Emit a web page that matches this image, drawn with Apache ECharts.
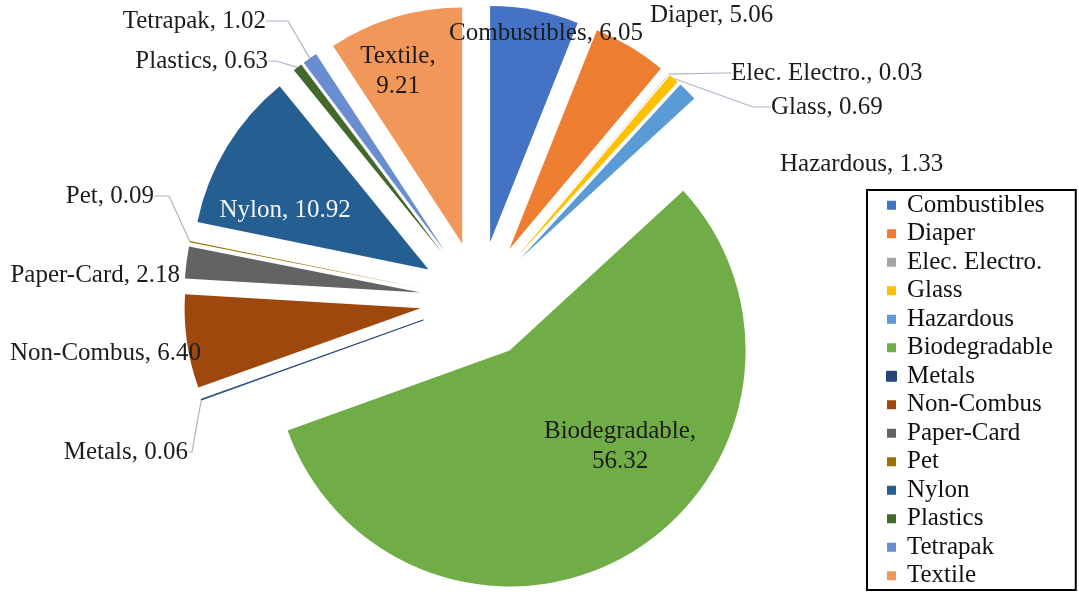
<!DOCTYPE html>
<html><head><meta charset="utf-8">
<script src="https://cdn.jsdelivr.net/npm/echarts@6/dist/echarts.min.js"></script>
<style>html,body{margin:0;padding:0;background:#fff}#c{width:1079px;height:594px}</style>
</head><body><div id="c"></div>
<script>
// ---- data ----
const categories = ['Combustibles','Diaper','Elec. Electro.','Glass','Hazardous','Biodegradable','Metals','Non-Combus','Paper-Card','Pet','Nylon','Plastics','Tetrapak','Textile'];
const values = [6.05, 5.06, 0.03, 0.69, 1.33, 56.32, 0.06, 6.40, 2.18, 0.09, 10.92, 0.63, 1.02, 9.21];
const colors = ['#4472C4','#ED7D31','#A5A5A5','#FFC000','#5B9BD5','#70AD47','#264478','#9E480E','#636363','#997300','#255E91','#43682B','#698ED0','#F1975A'];

// ---- layout / style ----
const CX = 479, CY = 300, R = 236, OFF = 59;
const FONT = 'Liberation Serif';
const LABEL_POS = {
  'Combustibles':  {x: 546, y: 33,  align: 'center', kind: 'inside'},
  'Diaper':        {x: 650, y: 15,  align: 'left',   kind: 'plain'},
  'Elec. Electro.':{x: 731, y: 73,  align: 'left',   kind: 'line', len2: 8},
  'Glass':         {x: 771, y: 107, align: 'left',   kind: 'line', len2: 18},
  'Hazardous':     {x: 780, y: 164, align: 'left',   kind: 'plain'},
  'Biodegradable': {x: 620, y: 446, align: 'center', kind: 'inside', two: true},
  'Metals':        {x: 188, y: 452, align: 'right',  kind: 'line', len2: 4},
  'Non-Combus':    {x: 201, y: 353, align: 'right',  kind: 'plain'},
  'Paper-Card':    {x: 180, y: 275, align: 'right',  kind: 'plain'},
  'Pet':           {x: 154, y: 196, align: 'right',  kind: 'line', len2: 15},
  'Nylon':         {x: 285, y: 210, align: 'center', kind: 'inside', color: '#f2f5fa'},
  'Plastics':      {x: 268, y: 61,  align: 'right',  kind: 'line', len2: 8},
  'Tetrapak':      {x: 266, y: 21,  align: 'right',  kind: 'line', len2: 22},
  'Textile':       {x: 398, y: 71,  align: 'center', kind: 'inside', two: true}
};

const total = values.reduce((a, b) => a + b, 0);
let cum = 0;
const filler = (val) => ({name: '', value: val, itemStyle: {color: 'rgba(0,0,0,0)', borderWidth: 0},
  label: {show: false}, labelLine: {show: false}});

const series = categories.map((name, i) => {
  const v = values[i];
  const before = cum;
  const after = Math.max(total - cum - v, 0);
  const midRad = (cum + v / 2) / total * 2 * Math.PI;
  cum += v;
  const center = [CX + OFF * Math.sin(midRad), CY - OFF * Math.cos(midRad)];
  const lp = LABEL_POS[name];
  const item = {
    name, value: v,
    itemStyle: {color: colors[i], borderWidth: name === 'Metals' ? 0.8 : 0, borderColor: colors[i]},
    label: {
      show: true,
      position: lp.kind === 'inside' ? 'inside' : 'outside',
      formatter: (p) => p.name + (lp.two ? ',\n' : ', ') + p.value.toFixed(2),
      fontFamily: FONT, fontSize: 25, lineHeight: 30,
      color: lp.color || '#1c1c1c'
    },
    labelLine: {
      show: lp.kind === 'line',
      length: 4, length2: lp.len2 || 0,
      minTurnAngle: 0,
      lineStyle: {color: '#a9b5c6', width: 1.2}
    }
  };
  return {
    type: 'pie', center, radius: R, startAngle: 90, clockwise: true,
    silent: true, avoidLabelOverlap: false, animation: false,
    minAngle: 0, stillShowZeroSum: true,
    emphasis: {disabled: true},
    data: [filler(before), item, filler(after)],
    labelLayout: (p) => p.dataIndex === 1
      ? {x: lp.x, y: lp.y, align: lp.align, verticalAlign: 'middle'}
      : {}
  };
});

const chart = echarts.init(document.getElementById('c'), null, {renderer: 'canvas'});
chart.setOption({
  animation: false,
  backgroundColor: '#fff',
  legend: {
    orient: 'vertical', left: 867, top: 190,
    data: categories.map((n, i) => ({name: n, itemStyle: {color: colors[i]}})),
    icon: 'rect', itemWidth: 9, itemHeight: 9, itemGap: 0,
    selectedMode: false,
    borderColor: '#000', borderWidth: 2,
    padding: [1, 23, 0, 19],
    textStyle: {fontFamily: FONT, fontSize: 25, color: '#111', lineHeight: 28.5, padding: [0, 0, 0, 6]}
  },
  series
});
</script>
</body></html>
